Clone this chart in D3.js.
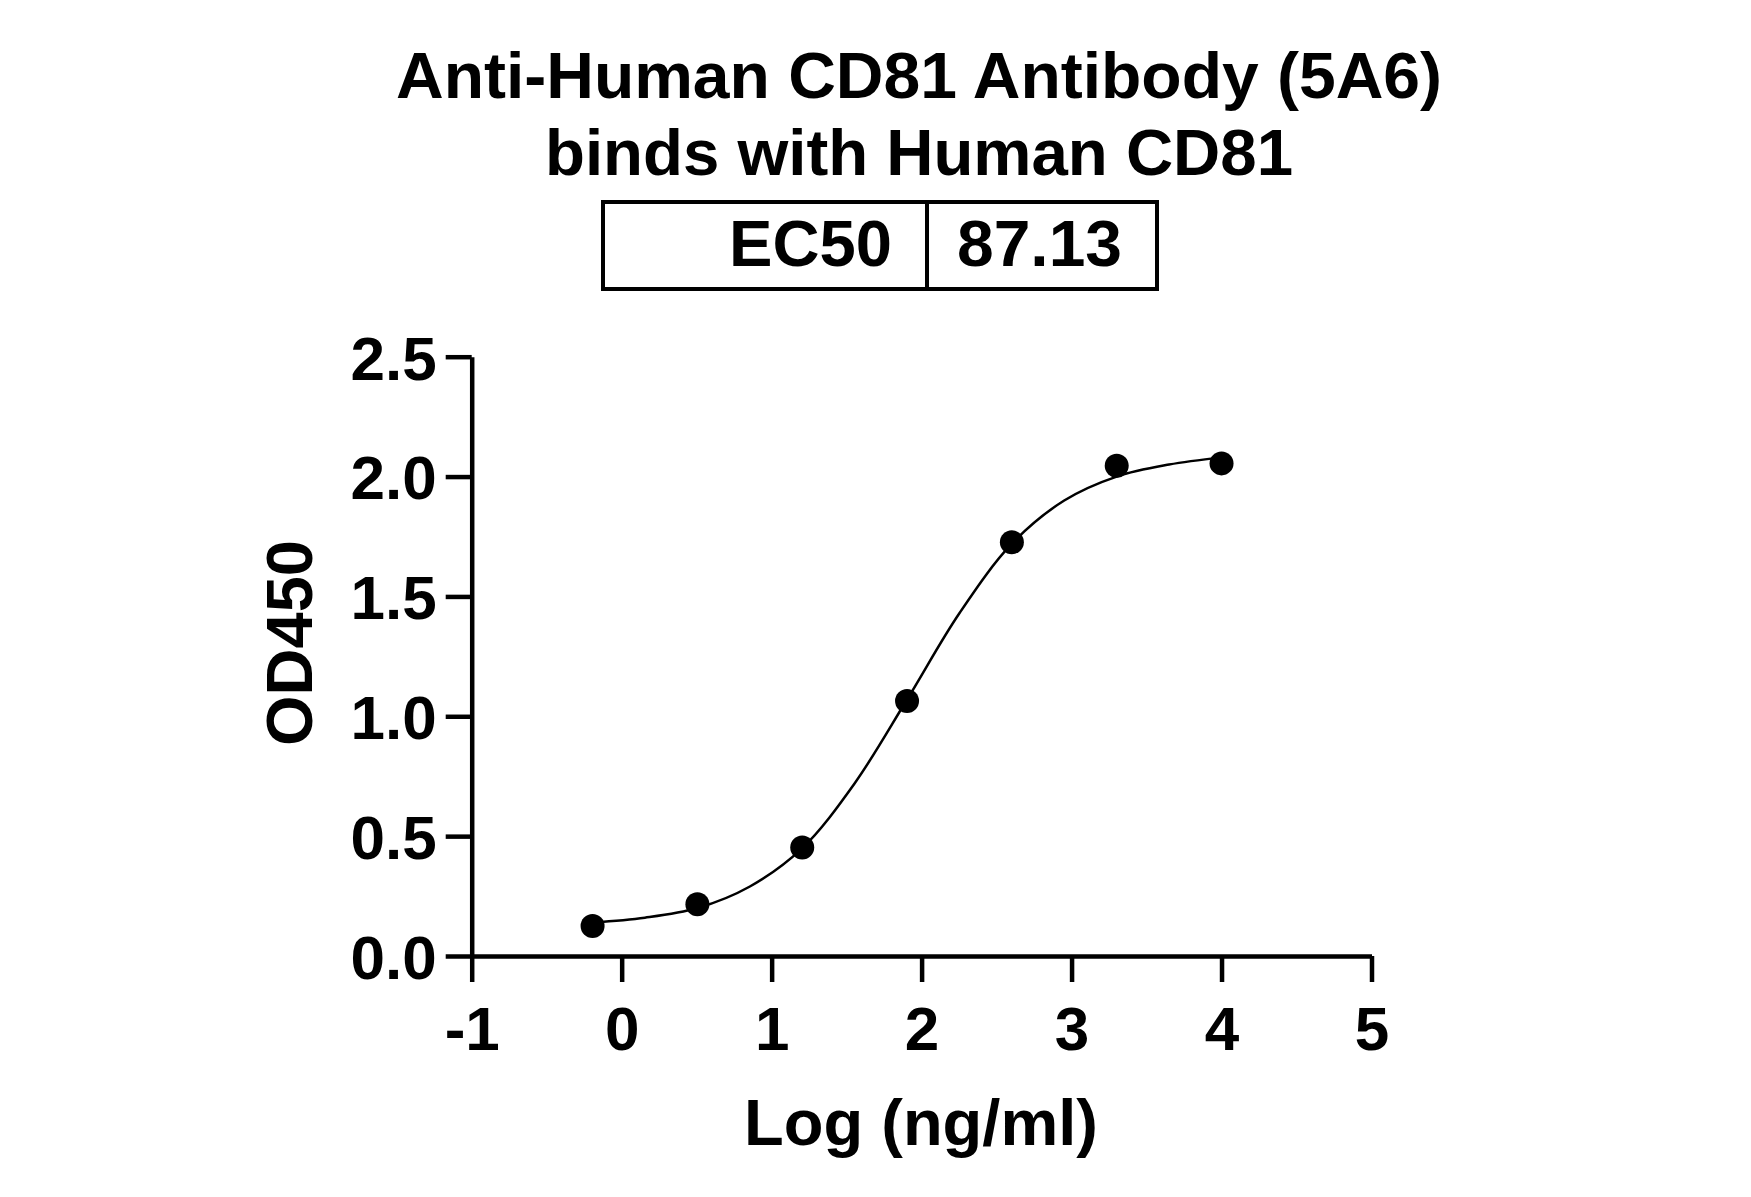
<!DOCTYPE html>
<html>
<head>
<meta charset="utf-8">
<script src="https://cdn.jsdelivr.net/npm/d3@7"></script>
<style>
  body { margin: 0; background: #fff; }
  text { font-family: "Liberation Sans", Arial, sans-serif; font-weight: bold; fill: #000; }
</style>
</head>
<body>
<svg id="chart"></svg>
<script>
// Chart data
const titleLines = ["Anti-Human CD81 Antibody (5A6)", "binds with Human CD81"];
const ec50Label = "EC50";
const ec50Value = "87.13";

// measured points (log ng/ml vs OD450)
const logConc = [-0.194, 0.505, 1.204, 1.903, 2.602, 3.301, 4.0];
const od450 = [0.125, 0.216, 0.453, 1.064, 1.726, 2.045, 2.055];

// fitted curve
const fitX = [-0.194, 0.155, 0.505, 0.855, 1.204, 1.553, 1.903, 2.252, 2.602, 2.951, 3.301, 3.65, 4.0];
const fitY = [0.14, 0.16, 0.20, 0.29, 0.45, 0.72, 1.07, 1.43, 1.72, 1.90, 2.00, 2.05, 2.08];

const xTicks = [-1, 0, 1, 2, 3, 4, 5];
const yTicks = [0, 0.5, 1.0, 1.5, 2.0, 2.5];

const width = 1751;
const height = 1197;

const svg = d3.select("#chart")
  .attr("width", width)
  .attr("height", height);

// Plot area
const plotLeft = 471.7, plotRight = 1371.5;
const plotTop = 356.7, plotBottom = 956;

const xScale = d3.scaleLinear().domain([-1, 5]).range([plotLeft, plotRight]);
const yScale = d3.scaleLinear().domain([0, 2.5]).range([plotBottom, plotTop]);

// Title
svg.selectAll(".title")
  .data(titleLines)
  .enter()
  .append("text")
  .attr("class", "title")
  .attr("x", 919)
  .attr("y", (d, i) => 98 + i * 77)
  .attr("text-anchor", "middle")
  .attr("textLength", (d, i) => i === 0 ? 1046 : 748)
  .attr("lengthAdjust", "spacingAndGlyphs")
  .style("font-size", "65px")
  .text(d => d);

// EC50 box
const box = svg.append("g");
box.append("rect")
  .attr("x", 603)
  .attr("y", 202)
  .attr("width", 554)
  .attr("height", 87)
  .attr("fill", "none")
  .attr("stroke", "#000")
  .attr("stroke-width", 4);
box.append("line")
  .attr("x1", 927).attr("x2", 927)
  .attr("y1", 202).attr("y2", 289)
  .attr("stroke", "#000")
  .attr("stroke-width", 4);
box.append("text")
  .attr("x", 892)
  .attr("y", 266)
  .attr("text-anchor", "end")
  .attr("textLength", 163)
  .attr("lengthAdjust", "spacingAndGlyphs")
  .style("font-size", "65px")
  .text(ec50Label);
box.append("text")
  .attr("x", 957)
  .attr("y", 266)
  .attr("textLength", 165)
  .attr("lengthAdjust", "spacingAndGlyphs")
  .style("font-size", "65px")
  .text(ec50Value);

// Axes
const xAxis = svg.append("g")
  .attr("class", "x-axis")
  .attr("transform", `translate(0,${plotBottom})`)
  .call(d3.axisBottom(xScale)
    .tickValues(xTicks)
    .tickFormat(d => String(d))
    .tickSize(26)
    .tickSizeOuter(0)
    .tickPadding(24));

const yAxis = svg.append("g")
  .attr("class", "y-axis")
  .attr("transform", `translate(${plotLeft},0)`)
  .call(d3.axisLeft(yScale)
    .tickValues(yTicks)
    .tickFormat(d3.format(".1f"))
    .tickSize(26)
    .tickSizeOuter(0)
    .tickPadding(9));

svg.selectAll(".x-axis path, .y-axis path, .x-axis line, .y-axis line")
  .attr("stroke", "#000")
  .attr("stroke-width", 4.5);

svg.selectAll(".x-axis text, .y-axis text")
  .attr("fill", "#000")
  .style("font-family", "'Liberation Sans', Arial, sans-serif")
  .style("font-weight", "bold")
  .style("font-size", "62px");

yAxis.selectAll("text").attr("dy", "0.36em");

// Axis labels
svg.append("text")
  .attr("x", 921)
  .attr("y", 1145)
  .attr("text-anchor", "middle")
  .style("font-size", "65px")
  .text("Log (ng/ml)");

svg.append("text")
  .attr("transform", "rotate(-90)")
  .attr("x", -643)
  .attr("y", 312)
  .attr("text-anchor", "middle")
  .style("font-size", "65px")
  .text("OD450");

// Fitted curve
const fitData = fitX.map((x, i) => ({ x: x, y: fitY[i] }));
const line = d3.line()
  .x(d => xScale(d.x))
  .y(d => yScale(d.y))
  .curve(d3.curveCatmullRom.alpha(0.5));

svg.append("path")
  .datum(fitData)
  .attr("d", line)
  .attr("fill", "none")
  .attr("stroke", "#000")
  .attr("stroke-width", 2.5);

// Points
const points = logConc.map((x, i) => ({ x: x, y: od450[i] }));
svg.selectAll(".dot")
  .data(points)
  .enter()
  .append("circle")
  .attr("class", "dot")
  .attr("cx", d => xScale(d.x))
  .attr("cy", d => yScale(d.y))
  .attr("r", 12)
  .attr("fill", "#000");
</script>
</body>
</html>
